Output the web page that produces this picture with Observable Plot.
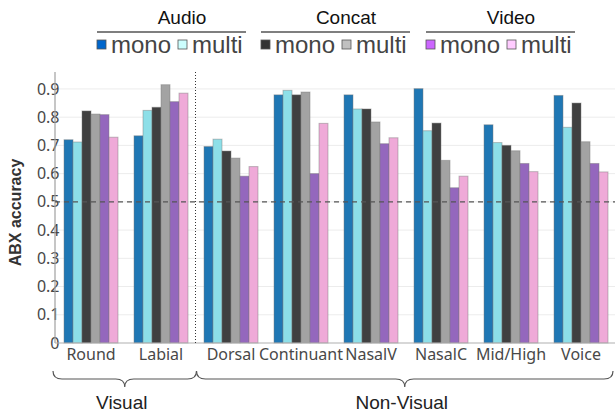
<!DOCTYPE html>
<html>
<head>
<meta charset="utf-8">
<script src="https://cdn.jsdelivr.net/npm/d3@7"></script>
<script src="https://cdn.jsdelivr.net/npm/@observablehq/plot@0.6"></script>
<style>
  html, body { margin: 0; padding: 0; background: #fff; }
  #chart { width: 615px; height: 412px; }
</style>
</head>
<body>
<div id="chart"></div>
<script>
// ---- data ----
const categories = ["Round", "Labial", "Dorsal", "Continuant", "NasalV", "NasalC", "Mid/High", "Voice"];
const groupNames = ["Visual", "Non-Visual"];
const groupCats = [["Round", "Labial"], ["Dorsal", "Continuant", "NasalV", "NasalC", "Mid/High", "Voice"]];
const modalities = ["Audio", "Concat", "Video"];
const trainings = ["mono", "multi"];
const series = ["Audio mono", "Audio multi", "Concat mono", "Concat multi", "Video mono", "Video multi"];
const audioMono   = [0.720, 0.734, 0.696, 0.879, 0.879, 0.901, 0.773, 0.877];
const audioMulti  = [0.712, 0.824, 0.722, 0.895, 0.829, 0.752, 0.710, 0.764];
const concatMono  = [0.822, 0.835, 0.680, 0.879, 0.829, 0.779, 0.700, 0.850];
const concatMulti = [0.811, 0.915, 0.655, 0.889, 0.783, 0.647, 0.681, 0.713];
const videoMono   = [0.809, 0.855, 0.591, 0.600, 0.706, 0.550, 0.636, 0.636];
const videoMulti  = [0.729, 0.885, 0.625, 0.778, 0.727, 0.591, 0.607, 0.606];
const yTicks = [0, 0.1, 0.2, 0.3, 0.4, 0.5, 0.6, 0.7, 0.8, 0.9];
const chanceLevel = 0.5;
const yLabel = "ABX accuracy";

// ---- styles ----
const barColors = ["#1f77b4", "#8ddfe8", "#404040", "#a3a3a3", "#9467bd", "#efaad8"];
const legendColors = ["#0066cc", "#ccffff", "#333333", "#c0c0c0", "#cc66ff", "#ffccff"];

const seriesValues = [audioMono, audioMulti, concatMono, concatMulti, videoMono, videoMulti];
const rows = [];
categories.forEach((cat, i) => {
  series.forEach((s, j) => rows.push({cat, series: s, value: seriesValues[j][i]}));
});

const W = 615, H = 412, mL = 55, mR = 0, mT = 72, mB = 69;

const chart = Plot.plot({
  width: W, height: H,
  marginTop: mT, marginBottom: mB, marginLeft: mL, marginRight: mR,
  style: {fontFamily: "'Noto Sans', sans-serif", background: "white", color: "#484848", overflow: "visible"},
  fx: {domain: categories, paddingInner: 0.186, paddingOuter: 0.086, label: null},
  x: {domain: series, padding: 0, axis: null},
  y: {domain: [0, 0.96]},
  color: {domain: series, range: barColors},
  marks: [
    Plot.barY(rows, {fx: "cat", x: "series", y: "value", fill: "series",
      stroke: "#777", strokeOpacity: 0.45, strokeWidth: 1, inset: 0}),
    Plot.axisY({ticks: yTicks, tickSize: 0, tickPadding: 3, fontSize: 16, label: null,
      tickFormat: d => d === 0 ? "0" : d.toFixed(1)}),
    Plot.axisFx({anchor: "bottom", tickSize: 0, tickPadding: 5, fontSize: 16, label: null})
  ]
});
document.getElementById("chart").appendChild(chart);

// ---- decorations drawn from the scales ----
const svg = d3.select(chart);
const y = chart.scale("y");
const fx = chart.scale("fx");
const yPx = v => y.apply(v);
const x0 = mL, x1 = W - mR;
const y0 = yPx(0), yTop = yPx(y.domain[1]);

const under = svg.insert("g", "g");
under.selectAll("line.grid").data(yTicks.filter(d => d > 0)).join("line")
  .attr("x1", x0).attr("x2", x1).attr("y1", yPx).attr("y2", yPx)
  .attr("stroke", "#ececec").attr("stroke-width", 1);

const over = svg.append("g").attr("text-anchor", "start");
over.append("line").attr("x1", x0).attr("x2", x0).attr("y1", yTop).attr("y2", y0)
  .attr("stroke", "#a0a0a0").attr("stroke-width", 1.2);
over.append("line").attr("x1", x0).attr("x2", x1).attr("y1", y0).attr("y2", y0)
  .attr("stroke", "#b0b0b0").attr("stroke-width", 1.2);
over.append("line").attr("x1", x0).attr("x2", x1).attr("y1", yPx(chanceLevel)).attr("y2", yPx(chanceLevel))
  .attr("stroke", "#555").attr("stroke-width", 1.4).attr("stroke-dasharray", "5,4");
const lastVisual = groupCats[0][groupCats[0].length - 1];
const firstNon = groupCats[1][0];
const sepX = (fx.apply(lastVisual) + fx.bandwidth + fx.apply(firstNon)) / 2;
over.append("line").attr("x1", sepX).attr("x2", sepX).attr("y1", yTop).attr("y2", y0 + 2)
  .attr("stroke", "#333").attr("stroke-width", 1).attr("stroke-dasharray", "1,2");

over.append("text").text(yLabel)
  .attr("transform", `translate(17,${(yTop + y0) / 2 + 5}) rotate(-90)`)
  .attr("text-anchor", "middle").attr("dominant-baseline", "middle")
  .attr("font-family", "'Liberation Sans', Arial, sans-serif").attr("font-weight", "bold")
  .attr("font-size", 16).attr("fill", "#333");

function bracePath(a, b, top, h, r) {
  const m = (a + b) / 2;
  return `M${a},${top} Q${a},${top + h} ${a + r},${top + h} L${m - r},${top + h} Q${m},${top + h} ${m},${top + 2 * h}` +
         ` Q${m},${top + h} ${m + r},${top + h} L${b - r},${top + h} Q${b},${top + h} ${b},${top}`;
}
const braceSpans = [[x0 - 2, sepX + 1], [sepX + 1, x1 - 2]];
groupNames.forEach((g, i) => {
  const [a, b] = braceSpans[i];
  over.append("path").attr("d", bracePath(a, b, 371, 8, 9))
    .attr("fill", "none").attr("stroke", "#555").attr("stroke-width", 1.2);
  over.append("text").text(g).attr("x", (a + b) / 2 - 3).attr("y", 409)
    .attr("text-anchor", "middle").attr("font-family", "'Liberation Sans', Arial, sans-serif")
    .attr("font-size", 19).attr("fill", "#222");
});

const legendStarts = [97, 261, 426];
modalities.forEach((m, i) => {
  const gx = legendStarts[i];
  const g = over.append("g").attr("font-family", "'Liberation Sans', Arial, sans-serif");
  g.append("text").text(m).attr("x", gx + 85).attr("y", 24).attr("text-anchor", "middle")
    .attr("font-size", 19).attr("fill", "#111");
  g.append("line").attr("x1", gx).attr("x2", gx + 149).attr("y1", 32).attr("y2", 32)
    .attr("stroke", "#555").attr("stroke-width", 1.5);
  trainings.forEach((t, j) => {
    const k = i * 2 + j;
    const sx = gx + j * 81;
    g.append("rect").attr("x", sx).attr("y", 40).attr("width", 9).attr("height", 9)
      .attr("fill", legendColors[k]).attr("stroke", "#555").attr("stroke-width", 0.8);
    g.append("text").text(t).attr("x", sx + 14).attr("y", 53).attr("text-anchor", "start")
      .attr("font-size", 24).attr("fill", "#444");
  });
});
</script>
</body>
</html>
